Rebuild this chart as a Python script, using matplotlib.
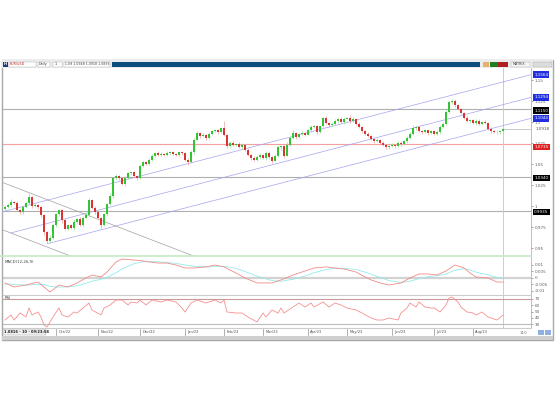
import numpy as np
import matplotlib.pyplot as plt
from matplotlib.patches import Rectangle

W, H = 555, 400

# daily closes, one per candle (EUR/USD style price scale)
closes = [
    0.999, 1.001, 1.005, 1.004, 0.995, 0.993, 0.999, 1.004, 1.011, 1.000,
    1.001, 0.999, 0.989, 0.969, 0.958, 0.962, 0.977, 0.990, 0.995, 0.983,
    0.973, 0.977, 0.974, 0.981, 0.985, 0.977, 0.986, 0.989, 1.007, 0.998,
    0.993, 0.986, 0.977, 0.990, 1.002, 1.012, 1.033, 1.036, 1.033, 1.026,
    1.033, 1.039, 1.040, 1.036, 1.033, 1.048, 1.052, 1.050, 1.055, 1.060,
    1.063, 1.061, 1.062, 1.061, 1.063, 1.064, 1.062, 1.061, 1.064, 1.063,
    1.055, 1.052, 1.064, 1.079, 1.087, 1.083, 1.085, 1.081, 1.086, 1.089,
    1.090, 1.088, 1.093, 1.085, 1.071, 1.075, 1.073, 1.074, 1.070, 1.073,
    1.067, 1.061, 1.057, 1.055, 1.058, 1.061, 1.057, 1.063, 1.058, 1.054,
    1.060, 1.070, 1.071, 1.060, 1.073, 1.081, 1.087, 1.082, 1.086, 1.087,
    1.085, 1.090, 1.094, 1.095, 1.088, 1.095, 1.105, 1.099, 1.096, 1.098,
    1.101, 1.104, 1.100, 1.104, 1.105, 1.101, 1.104, 1.098, 1.094, 1.089,
    1.086, 1.083, 1.080, 1.077, 1.079, 1.075, 1.073, 1.070, 1.071, 1.073,
    1.071, 1.075, 1.074, 1.077, 1.081, 1.086, 1.093, 1.094, 1.089, 1.088,
    1.090, 1.087, 1.089, 1.086, 1.088, 1.094, 1.098, 1.112, 1.124, 1.125,
    1.120, 1.115, 1.111, 1.105, 1.101, 1.102, 1.099, 1.101, 1.098, 1.100,
    1.099, 1.092, 1.089, 1.088, 1.088, 1.089, 1.092,
]
first_open = 0.997
# wick lengths beyond the body, in thousandths
up_wick = [
    2, 2, 3, 1, 2, 1, 2, 2, 4, 1, 2, 1, 1, 2, 1, 3, 2, 2, 1, 2,
    1, 2, 2, 3, 1, 2, 2, 3, 2, 1, 2, 1, 1, 2, 2, 3, 2, 2, 1, 2,
    3, 2, 1, 2, 1, 2, 2, 1, 2, 2, 1, 2, 2, 1, 2, 1, 2, 1, 2, 1,
    1, 2, 3, 2, 2, 1, 2, 1, 2, 1, 2, 2, 1, 8, 1, 2, 2, 1, 2, 2,
    1, 2, 1, 2, 3, 2, 1, 2, 2, 1, 2, 3, 1, 2, 3, 2, 3, 1, 1, 2,
    1, 2, 2, 1, 2, 2, 1, 2, 1, 2, 2, 1, 2, 2, 1, 3, 2, 1, 2, 1,
    1, 2, 2, 1, 2, 1, 2, 1, 2, 2, 1, 2, 2, 1, 2, 2, 3, 1, 2, 1,
    2, 1, 2, 1, 2, 2, 2, 2, 1, 2, 2, 1, 2, 1, 2, 2, 1, 3, 2, 1,
    2, 1, 2, 1, 2, 1, 1,
]
down_wick = [
    2, 1, 2, 2, 1, 2, 2, 1, 2, 2, 1, 2, 2, 3, 2, 2, 1, 2, 2, 3,
    2, 2, 1, 2, 2, 1, 2, 2, 2, 1, 2, 2, 3, 1, 2, 1, 2, 2, 2, 1,
    2, 1, 2, 1, 2, 1, 2, 1, 1, 2, 2, 1, 1, 2, 1, 2, 1, 2, 1, 2,
    2, 3, 1, 2, 1, 2, 1, 2, 1, 2, 1, 2, 1, 2, 2, 2, 1, 2, 1, 2,
    2, 1, 2, 2, 1, 2, 1, 2, 2, 3, 1, 2, 3, 3, 1, 2, 1, 2, 1, 2,
    2, 1, 2, 1, 2, 1, 2, 1, 2, 1, 1, 2, 1, 2, 1, 2, 1, 2, 1, 2,
    2, 1, 2, 2, 1, 2, 1, 2, 2, 1, 2, 1, 2, 1, 2, 1, 2, 2, 1, 2,
    1, 2, 1, 2, 1, 2, 1, 2, 1, 2, 2, 1, 2, 2, 1, 2, 1, 2, 1, 2,
    1, 2, 2, 1, 2, 2, 1,
]

# trend lines: (start index, end index, start price, end price)
channel_lines = [(-1, 176, 0.993, 1.157), (2, 176, 0.968, 1.130), (14, 176, 0.955, 1.105)]
falling_lines = [(-1, 63, 1.0283, 0.9403), (-1, 23, 0.9719, 0.9389)]
levels = [1.1150, 1.0735, 1.0340, 0.9935]
level_colors = ["#b0b0b0", "#f4a0a0", "#b0b0b0", "#b0b0b0"]
price_ticks = [0.95, 0.975, 1.0, 1.025, 1.05, 1.075, 1.1, 1.125, 1.15]

macd_idx = [0, 3, 7, 11, 13, 15, 18, 21, 24, 27, 29, 32, 34, 37, 39, 43, 46, 51, 54, 57,
            60, 63, 67, 70, 73, 77, 80, 84, 89, 92, 96, 100, 103, 107, 110, 113, 117, 120, 122, 125,
            128, 132, 135, 138, 141, 144, 147, 150, 153, 155, 157, 161, 164, 166]
macd_line = [-0.0038, -0.0069, -0.0054, -0.0031, -0.0069, -0.0108, -0.0054, -0.0069, -0.0038, 0.0,
             0.0023, 0.0008, 0.0046, 0.0123, 0.0146, 0.0138, 0.0131, 0.0115, 0.0115, 0.0100,
             0.0077, 0.0077, 0.0085, 0.0100, 0.0085, 0.0038, 0.0, -0.0038, -0.0038, -0.0015,
             0.0023, 0.0054, 0.0077, 0.0085, 0.0077, 0.0069, 0.0046, 0.0008, -0.0015, -0.0038,
             -0.0054, -0.0038, 0.0, 0.0031, 0.0031, 0.0023, 0.0054, 0.0100, 0.0077, 0.0038,
             0.0008, 0.0, -0.0031, -0.0031]
macd_signal = [-0.0045, -0.0050, -0.0055, -0.0048, -0.0050, -0.0065, -0.0070, -0.0068, -0.0060, -0.0040,
               -0.0025, -0.0010, 0.0005, 0.0040, 0.0070, 0.0110, 0.0125, 0.0125, 0.0120, 0.0112,
               0.0100, 0.0090, 0.0085, 0.0088, 0.0090, 0.0075, 0.0050, 0.0015, -0.0020, -0.0025,
               -0.0010, 0.0015, 0.0040, 0.0065, 0.0075, 0.0075, 0.0065, 0.0045, 0.0030, 0.0005,
               -0.0020, -0.0035, -0.0025, -0.0005, 0.0010, 0.0018, 0.0030, 0.0060, 0.0070, 0.0062,
               0.0045, 0.0025, 0.0005, -0.0005]
macd_ticks = [-0.01, -0.005, 0, 0.005, 0.01]

rsi_idx = [0, 2, 3, 5, 7, 8, 9, 11, 12, 13, 14, 16, 18, 19, 21, 23, 24, 26, 28, 29,
           32, 33, 35, 37, 39, 41, 42, 44, 45, 47, 49, 52, 54, 57, 59, 60, 62, 64, 67, 70,
           72, 73, 74, 77, 79, 81, 84, 86, 87, 89, 91, 92, 93, 96, 98, 100, 102, 103, 106, 108,
           110, 112, 114, 117, 119, 122, 124, 126, 128, 131, 132, 134, 135, 137, 138, 140, 142, 143, 145, 147,
           148, 149, 151, 152, 154, 156, 157, 159, 161, 162, 164, 166]
rsi_vals = [36.4, 44.4, 36.4, 47.6, 41.2, 55.6, 44.4, 49.2, 41.2, 28.4, 25.2, 41.2, 55.6, 44.4, 41.2, 49.2, 47.6, 55.6, 63.6, 52.4,
            44.4, 55.6, 60.4, 68.4, 68.4, 60.4, 65.2, 63.6, 68.4, 60.4, 68.4, 65.2, 68.4, 65.2, 55.6, 49.2, 63.6, 68.4, 63.6, 68.4,
            63.6, 68.4, 49.2, 47.6, 47.6, 41.2, 33.2, 47.6, 41.2, 52.4, 47.6, 55.6, 47.6, 57.2, 63.6, 57.2, 63.6, 57.2, 65.2, 57.2,
            63.6, 60.4, 55.6, 52.4, 47.6, 39.6, 36.4, 36.4, 39.6, 36.4, 47.6, 55.6, 63.6, 57.2, 65.2, 57.2, 55.6, 55.6, 49.2, 60.4,
            71.6, 73.2, 65.2, 57.2, 49.2, 47.6, 44.4, 49.2, 41.2, 39.6, 36.4, 44.4]
rsi_ticks = [30, 40, 50, 60, 70]

month_idx = [17, 31, 45, 60, 73, 86, 101, 114, 129, 143, 156]
month_labels = ["Oct/22", "Nov/22", "Dec/22", "Jan/23", "Feb/23", "Mar/23",
                "Apr/23", "May/23", "Jun/23", "Jul/23", "Aug/23"]

fig = plt.figure(figsize=(W / 100, H / 100), dpi=100)
fig.patch.set_facecolor("white")


def rect(x0, y0, x1, y1):
    return [x0 / W, 1 - y1 / H, (x1 - x0) / W, (y1 - y0) / H]


def box(x0, y0, x1, y1, **kw):
    fig.add_artist(Rectangle((x0 / W, 1 - y1 / H), (x1 - x0) / W, (y1 - y0) / H,
                             transform=fig.transFigure, **kw))


def ftext(x, y, s, **kw):
    fig.text(x / W, 1 - y / H, s, **kw)


xlim = (-0.67, 175.33)
last = len(closes) - 1
grid_col = "#b4b4b4"


def panel(r, ylim, ticks, fmt):
    ax = fig.add_axes(rect(*r))
    ax.set_xlim(xlim)
    ax.set_ylim(ylim)
    for s in ["left", "top", "bottom"]:
        ax.spines[s].set_visible(False)
    ax.spines["right"].set_color(grid_col)
    ax.spines["right"].set_linewidth(0.6)
    ax.set_xticks([])
    ax.yaxis.tick_right()
    ax.set_yticks(ticks)
    ax.set_yticklabels([fmt(t) for t in ticks])
    ax.tick_params(axis="y", labelsize=3, length=1.5, width=0.4, pad=1,
                   colors="#606060")
    ax.axvline(last, color="#cccccc", lw=0.7)
    return ax


# ---- price panel
ax = panel((3, 68, 531, 256), (0.9405, 1.1643), price_ticks, lambda t: f"{t:g}")
c = np.array(closes)
o = np.concatenate(([first_open], c[:-1]))
hi = np.maximum(o, c) + np.array(up_wick) / 1000
lo = np.minimum(o, c) - np.array(down_wick) / 1000
xs = np.arange(len(c))
up = c >= o
for m, body, wick in [(up, "#33c433", "#95de95"), (~up, "#d93434", "#efa0a0")]:
    ax.vlines(xs[m], lo[m], hi[m], color=wick, lw=0.5, zorder=3)
    ax.bar(xs[m], np.maximum(np.abs(c[m] - o[m]), 0.0006), bottom=np.minimum(o[m], c[m]),
           width=0.6, color=body, lw=0, zorder=4)

for x0, x1, p0, p1 in channel_lines:
    ax.plot([x0, x1], [p0, p1], color="#a4a4f0", lw=0.5, zorder=2)
for x0, x1, p0, p1 in falling_lines:
    ax.plot([x0, x1], [p0, p1], color="#a0a0a0", lw=0.5, zorder=2)
for lv, col in zip(levels, level_colors):
    ax.axhline(lv, color=col, lw=0.8, zorder=1)
ax.plot([last, xlim[1]], [closes[-1]] * 2, color="#c0c0c0", lw=0.6)

yt = ax.get_yaxis_transform()
lab_kw = dict(transform=yt, fontsize=3, va="center", ha="left", clip_on=False, zorder=6)
for x0, x1, p0, p1 in channel_lines:
    end = p0 + (p1 - p0) * (xlim[1] - x0) / (x1 - x0)
    ax.text(1.006, end, f"{end:.4f}", color="white",
            bbox=dict(boxstyle="square,pad=0.3", fc="#2030e0", ec="none"), **lab_kw)
for lv, fc, shift in zip(levels, ["black", "#e02020", "black", "black"],
                         [-0.0015, -0.0035, -0.0008, -0.0008]):
    ax.text(1.006, lv + shift, f"{lv:.4f}", color="white",
            bbox=dict(boxstyle="square,pad=0.3", fc=fc, ec="none"), **lab_kw)
ax.text(1.008, closes[-1], "1.0918", color="#505050", **lab_kw)

# ---- MACD panel
ax2 = panel((3, 257, 531, 295), (-0.01308, 0.01615), macd_ticks, lambda t: f"{t:g}")
ax2.axhline(0, color="#d2d2d2", lw=1.6, zorder=1)
ax2.plot(macd_idx, macd_signal, color="#95eaea", lw=0.6)
ax2.plot(macd_idx, macd_line, color="#f28a8a", lw=0.6)
ax2.text(0.004, 0.93, "MACD(12,26,9)", transform=ax2.transAxes, fontsize=2.8,
         color="#404040", va="top")

# ---- RSI panel
ax3 = panel((3, 295, 531, 328), (23.6, 76.4), rsi_ticks, lambda t: f"{t:g}")
ax3.axhline(70, color="#c89a9a", lw=0.8)
ax3.axhline(30, color="#bcbcbc", lw=0.8)
ax3.plot(rsi_idx, rsi_vals, color="#f59090", lw=0.6)
ax3.text(0.004, 0.97, "RSI", transform=ax3.transAxes, fontsize=2.8,
         color="#404040", va="top")

# ---- date strip
axd = fig.add_axes(rect(3, 328, 531, 336))
axd.set_xlim(xlim)
axd.set_ylim(0, 1)
axd.axis("off")
for mi, ml in zip(month_idx, month_labels):
    axd.plot([mi, mi], [0.1, 0.9], color="#909090", lw=0.5)
    axd.text(mi + 0.8, 0.5, ml, fontsize=2.6, color="#505050", va="center")

# ---- window chrome
fig.add_artist(plt.Line2D([0, 531 / W], [1 - 256 / H] * 2, color="#c4eac4", lw=1.2,
                          transform=fig.transFigure))
for yy in (295, 328):
    fig.add_artist(plt.Line2D([3 / W, 531 / W], [1 - yy / H] * 2, color="#cccccc", lw=0.8,
                              transform=fig.transFigure))
box(2, 60, 553, 340, fill=False, ec="#a8a8a8", lw=1.0)
box(2, 60, 553, 68, fc="#ececec", ec="none")
box(3, 61.5, 8, 66.5, fc="#1f3f7a", ec="none")
ftext(4, 64, "H", fontsize=2.6, color="white", va="center", weight="bold")
box(9, 61.5, 36, 66.5, fc="white", ec="#b0b0b0", lw=0.3)
ftext(10, 64, "EUR/USD", fontsize=2.4, color="#c02020", va="center")
box(38, 61.5, 50, 66.5, fc="white", ec="#b0b0b0", lw=0.3)
ftext(39, 64, "Daily", fontsize=2.4, color="#404040", va="center")
box(53, 61.5, 62, 66.5, fc="white", ec="#b0b0b0", lw=0.3)
ftext(55, 64, "1", fontsize=2.4, color="#404040", va="center")
box(64, 61.5, 110, 66.5, fc="white", ec="#b0b0b0", lw=0.3)
ftext(65, 64, "1.09 1.0948 1.0918 1.0893", fontsize=2.3, color="#404040", va="center")
box(112, 62, 480, 66.5, fc="#0d4f7c", ec="none")
box(483, 62, 489, 66.5, fc="#e8b070", ec="none")
box(490, 62, 498, 66.5, fc="#208020", ec="none")
box(498, 62, 508, 66.5, fc="#b02020", ec="none")
box(511, 61.5, 530, 66.5, fc="#f4f4f4", ec="#b0b0b0", lw=0.3)
ftext(513, 64, "MATRIX", fontsize=2.4, color="#404040", va="center")
box(533, 61.5, 552, 66.5, fc="#dcdcdc", ec="#b0b0b0", lw=0.3)
box(3, 329, 46, 335, fc="#f0f0f0", ec="#a0a0a0", lw=0.3)
ftext(4, 332, "1.0816 - 10 - 09/23:58", fontsize=2.6, color="#202020", va="center",
      weight="bold")
box(2, 336, 553, 340, fc="#cfcfcf", ec="none")
box(538, 330, 544, 335, fc="#8fb0e0", ec="none")
box(545, 330, 551, 335, fc="#8fb0e0", ec="none")
ftext(520, 333, "14:0", fontsize=2.4, color="#606060", va="center")

fig.savefig("out.png", dpi=100)
